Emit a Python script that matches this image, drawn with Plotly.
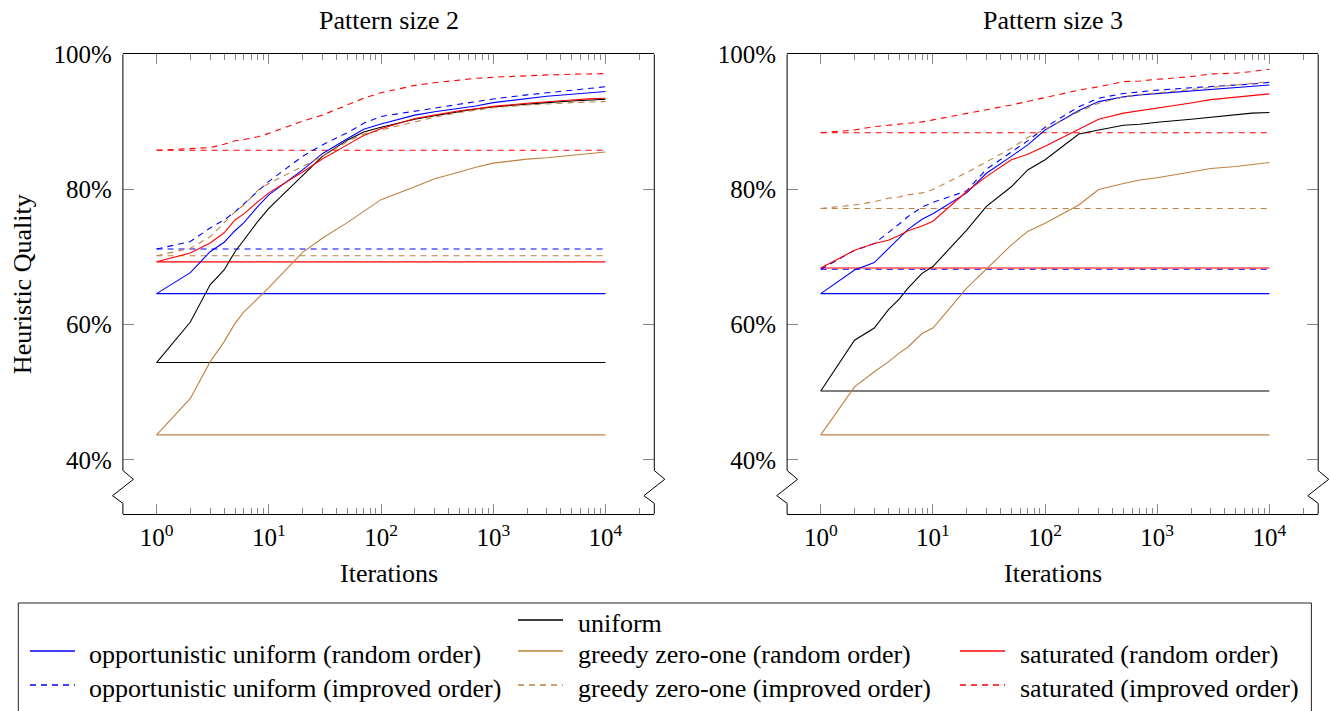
import plotly.graph_objects as go

W, H = 1331, 711

# ---------------- data ----------------
ITER = [1, 2, 3, 4, 5, 6, 8, 10, 20, 30, 50, 70, 100, 200, 300, 500, 700,
        1000, 2000, 3000, 5000, 7000, 10000]

# Pattern size 2
P2_UNIFORM = [54.4, 60.4, 65.9, 68.1, 70.8, 72.6, 75.3, 77.2, 82.1, 84.9, 87.3, 88.5,
              89.2, 90.4, 90.9, 91.5, 91.9, 92.2, 92.65, 92.85, 93.1, 93.2, 93.35]
P2_OPP_RANDOM = [64.6, 67.7, 70.8, 72.2, 73.9, 75.1, 77.5, 79.2, 82.9, 85.3, 87.5, 88.9,
                 89.7, 91.0, 91.5, 92.0, 92.35, 92.85, 93.5, 93.8, 94.1, 94.3, 94.5]
P2_OPP_IMPROVED = [71.2, 72.3, 74.3, 75.5, 76.7, 77.9, 79.7, 81.2, 84.9, 86.6, 88.4, 89.8,
                   90.8, 91.6, 92.1, 92.7, 93.0, 93.4, 94.0, 94.3, 94.7, 94.95, 95.2]
P2_GREEDY_RANDOM = [43.7, 49.1, 54.5, 57.5, 60.2, 61.9, 63.9, 65.5, 70.7, 72.8, 75.1, 76.7,
                    78.5, 80.4, 81.6, 82.6, 83.3, 83.9, 84.5, 84.7, 85.05, 85.3, 85.55]
P2_GREEDY_IMPROVED = [70.2, 71.3, 73.0, 75.0, 76.7, 77.7, 79.9, 80.9, 83.5, 84.9, 87.1, 88.2,
                      88.8, 90.0, 90.7, 91.4, 91.75, 92.1, 92.5, 92.7, 92.85, 92.95, 93.0]
P2_SAT_RANDOM = [69.3, 70.6, 72.1, 73.6, 75.5, 76.4, 78.2, 79.5, 82.6, 84.5, 86.6, 88.0,
                 89.0, 90.5, 91.0, 91.65, 91.95, 92.3, 92.75, 93.0, 93.25, 93.4, 93.5]
P2_SAT_IMPROVED = [85.8, 86.1, 86.2, 86.7, 87.2, 87.4, 87.8, 88.3, 90.1, 91.0, 92.5, 93.5,
                   94.3, 95.4, 95.8, 96.2, 96.45, 96.6, 96.85, 96.95, 97.05, 97.1, 97.15]

# Pattern size 3
P3_UNIFORM = [50.2, 57.7, 59.5, 62.2, 63.8, 65.4, 67.6, 68.6, 74.0, 77.5, 80.4, 82.9,
              84.4, 88.2, 88.8, 89.5, 89.65, 89.95, 90.4, 90.7, 91.1, 91.3, 91.4]
P3_OPP_RANDOM = [64.6, 68.1, 69.2, 71.2, 72.8, 74.1, 75.6, 76.4, 79.5, 82.4, 84.9, 86.6,
                 88.8, 91.7, 93.0, 93.7, 94.0, 94.2, 94.6, 94.85, 95.1, 95.25, 95.45]
P3_OPP_IMPROVED = [68.2, 71.0, 72.0, 73.6, 74.9, 76.0, 77.4, 78.1, 79.8, 83.0, 85.6, 87.2,
                   89.2, 92.25, 93.5, 94.2, 94.45, 94.7, 95.05, 95.2, 95.45, 95.6, 95.85]
P3_GREEDY_RANDOM = [43.7, 50.8, 53.05, 54.5, 55.8, 56.7, 58.7, 59.5, 65.4, 68.2, 71.8, 73.8,
                    75.0, 77.7, 80.0, 80.9, 81.4, 81.75, 82.6, 83.1, 83.4, 83.7, 84.0]
P3_GREEDY_IMPROVED = [77.2, 77.7, 78.2, 78.7, 78.9, 79.2, 79.5, 80.0, 82.5, 84.1, 86.1, 87.7,
                      88.9, 91.5, 92.75, 93.7, 94.05, 94.3, 94.8, 95.1, 95.45, 95.7, 95.95]
P3_SAT_RANDOM = [68.4, 71.0, 72.0, 72.5, 73.2, 73.9, 74.6, 75.3, 79.7, 81.9, 84.4, 85.2,
                 86.4, 88.9, 90.4, 91.3, 91.65, 92.1, 92.8, 93.3, 93.65, 93.9, 94.15]
P3_SAT_IMPROVED = [88.4, 88.8, 89.3, 89.5, 89.7, 89.8, 90.0, 90.3, 91.3, 91.8, 92.5, 93.0,
                   93.6, 94.7, 95.2, 95.95, 96.05, 96.3, 96.7, 97.1, 97.2, 97.45, 97.8]

NAMES = ["uniform",
         "opportunistic uniform (random order)",
         "opportunistic uniform (improved order)",
         "greedy zero-one (random order)",
         "greedy zero-one (improved order)",
         "saturated (random order)",
         "saturated (improved order)"]
P2 = [P2_UNIFORM, P2_OPP_RANDOM, P2_OPP_IMPROVED, P2_GREEDY_RANDOM,
      P2_GREEDY_IMPROVED, P2_SAT_RANDOM, P2_SAT_IMPROVED]
P3 = [P3_UNIFORM, P3_OPP_RANDOM, P3_OPP_IMPROVED, P3_GREEDY_RANDOM,
      P3_GREEDY_IMPROVED, P3_SAT_RANDOM, P3_SAT_IMPROVED]
TITLES = ["Pattern size 2", "Pattern size 3"]
Y_TICKS = [40, 60, 80, 100]
Y_TICKTEXT = ["40%", "60%", "80%", "100%"]
X_TICKS = [1, 10, 100, 1000, 10000]
X_TICKTEXT = ["10<sup>0</sup>", "10<sup>1</sup>", "10<sup>2</sup>", "10<sup>3</sup>", "10<sup>4</sup>"]
X_MINOR = [m * 10 ** e for e in range(0, 5) for m in range(2, 10)] + [20000]

# ---------------- styles ----------------
BLUE, BROWN, RED, BLACK = "#0000ff", "#bf8040", "#ff0000", "#000000"
COLORS = [BLACK, BLUE, BLUE, BROWN, BROWN, RED, RED]
DASH = "6px,5px"
DASHES = ["solid", "solid", DASH, "solid", DASH, "solid", DASH]
FONT = "Liberation Serif"
LW = 1.1
TICKGRAY = "#8a8a8a"

# geometry in pixels
X_DOM_PX = [(122.9, 654.3), (787.1, 1318.2)]
Y_TOP_PX, Y_BOT_PX = 54.3, 514.0


def px(x):
    return x / W


def py(y):
    return 1 - y / H


fig = go.Figure()

for k, data in enumerate([P2, P3]):
    xa = "x" if k == 0 else "x2"
    ya = "y" if k == 0 else "y2"
    # baselines (value at first iteration kept constant)
    for name, vals, col, dash in zip(NAMES, data, COLORS, DASHES):
        fig.add_trace(go.Scatter(x=[ITER[0], ITER[-1]], y=[vals[0], vals[0]], mode="lines",
                                 line=dict(color=col, width=LW, dash=dash),
                                 xaxis=xa, yaxis=ya, showlegend=False, hoverinfo="skip"))
    for name, vals, col, dash in zip(NAMES, data, COLORS, DASHES):
        fig.add_trace(go.Scatter(x=ITER, y=vals, mode="lines", name=name,
                                 line=dict(color=col, width=LW, dash=dash),
                                 xaxis=xa, yaxis=ya, showlegend=False))

axis_font = dict(family=FONT, size=25, color="black")
for k in range(2):
    sfx = "" if k == 0 else "2"
    x0, x1 = X_DOM_PX[k]
    fig.layout["xaxis" + sfx] = dict(
        type="log", range=[-0.3, 4.435], domain=[px(x0), px(x1)],
        anchor="y" + sfx, showline=True, linecolor="black", linewidth=1, mirror="ticks",
        ticks="inside", ticklen=10, tickwidth=1, tickcolor=TICKGRAY,
        tickvals=X_TICKS, ticktext=X_TICKTEXT, tickfont=axis_font,
        ticklabelstandoff=1, automargin=False,
        minor=dict(tickvals=X_MINOR, ticks="inside", ticklen=6, tickwidth=1,
                   tickcolor=TICKGRAY, showgrid=False),
        showgrid=False, zeroline=False)
    fig.layout["yaxis" + sfx] = dict(
        range=[32, 100], domain=[py(Y_BOT_PX), py(Y_TOP_PX)],
        anchor="x" + sfx, showline=False, mirror="ticks",
        ticks="inside", ticklen=11, tickwidth=1, tickcolor=TICKGRAY,
        tickvals=Y_TICKS, ticktext=Y_TICKTEXT, tickfont=axis_font,
        ticklabelstandoff=10, automargin=False,
        showgrid=False, zeroline=False)

shapes = []
annotations = []
# vertical axis lines with the zig-zag axis break
for k, (x0, x1) in enumerate(X_DOM_PX):
    for xe in (x0, x1):
        pts = [(xe, Y_TOP_PX), (xe, 470.5), (xe + 10.5, 479.3), (xe - 10.4, 495.7),
               (xe, 503.3), (xe, Y_BOT_PX)]
        path = "M " + " L ".join(f"{px(a):.5f},{py(b):.5f}" for a, b in pts)
        shapes.append(dict(type="path", xref="paper", yref="paper", path=path,
                           line=dict(color="black", width=1)))
    cx = (x0 + x1) / 2
    annotations.append(dict(text=TITLES[k], x=px(cx), y=py(20.7), xref="paper", yref="paper",
                            showarrow=False, xanchor="center", yanchor="middle",
                            font=dict(family=FONT, size=26, color="black")))
    annotations.append(dict(text="Iterations", x=px(cx), y=py(573), xref="paper", yref="paper",
                            showarrow=False, xanchor="center", yanchor="middle",
                            font=dict(family=FONT, size=26, color="black")))

annotations.append(dict(text="Heuristic Quality", x=px(22), y=py((Y_TOP_PX + Y_BOT_PX) / 2),
                        xref="paper", yref="paper", showarrow=False, textangle=-90,
                        xanchor="center", yanchor="middle",
                        font=dict(family=FONT, size=26, color="black")))

# legend (manual 3-column layout): frame, line samples, labels
LEG_COL_LINE = [(30, 75), (518, 563), (960, 1005)]
LEG_COL_TEXT = [87.3, 576, 1018]
LEG_ROW_Y = [620, 651, 685]
LEG_POS = [(1, 0), (0, 1), (0, 2), (1, 1), (1, 2), (2, 1), (2, 2)]
shapes.append(dict(type="rect", xref="paper", yref="paper", x0=px(18.3), x1=px(1311.4),
                   y0=py(603), y1=py(730), line=dict(color="#222222", width=1),
                   fillcolor="rgba(0,0,0,0)"))
for name, col, dash, (c, r) in zip(NAMES, COLORS, DASHES, LEG_POS):
    lx0, lx1 = LEG_COL_LINE[c]
    yy = LEG_ROW_Y[r]
    shapes.append(dict(type="line", xref="paper", yref="paper", x0=px(lx0), x1=px(lx1),
                       y0=py(yy), y1=py(yy), line=dict(color=col, width=1.3, dash=dash)))
    annotations.append(dict(text=name, x=px(LEG_COL_TEXT[c]), y=py(yy + 3),
                            xref="paper", yref="paper", showarrow=False,
                            xanchor="left", yanchor="middle",
                            font=dict(family=FONT, size=26, color="black")))

fig.update_layout(width=W, height=H, autosize=False,
                  margin=dict(l=0, r=0, t=0, b=0, pad=0, autoexpand=False),
                  paper_bgcolor="white", plot_bgcolor="white",
                  showlegend=False, shapes=shapes, annotations=annotations,
                  font=dict(family=FONT, color="black"))

fig.write_html("out.html")
